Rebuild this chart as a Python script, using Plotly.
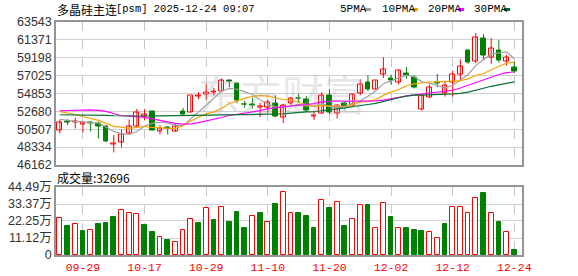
import plotly.graph_objects as go

dates = ["09-24","09-25","09-26","09-29","09-30","10-09","10-10","10-13","10-14","10-15",
         "10-16","10-17","10-20","10-21","10-22","10-23","10-24","10-27","10-28","10-29",
         "10-30","10-31","11-03","11-04","11-05","11-06","11-07","11-10","11-11","11-12",
         "11-13","11-14","11-17","11-18","11-19","11-20","11-21","11-24","11-25","11-26",
         "11-27","11-28","12-01","12-02","12-03","12-04","12-05","12-08","12-09","12-10",
         "12-11","12-12","12-15","12-16","12-17","12-18","12-19","12-22","12-23","12-24"]

opens = [50388,51430,51250,51070,51350,51200,50830,48700,48860,50030,
         50790,52040,52680,50270,50690,50270,52680,52560,54450,54690,
         54930,55090,56420,56060,53520,53440,53160,53160,53650,51960,
         53650,54250,54050,52040,52400,54530,52400,53650,53360,54810,
         56180,55340,57150,56620,56180,57270,56740,52880,54370,56140,
         54850,56180,57110,60080,58710,61490,59200,60040,58670,58030]
highs = [51675,51720,51876,51470,51470,51400,50990,49780,50470,51670,
         52960,52920,52720,50990,50870,51150,53080,54530,55010,55940,
         55500,56660,56500,56060,53930,54330,53690,54050,54610,53570,
         54410,54770,54530,52760,54970,55370,53480,53810,54770,56540,
         57030,56420,59200,57110,57710,58030,57030,54690,55900,57190,
         56300,57590,58960,60160,62140,62010,61530,61290,59520,58670]
lows = [49985,50990,50590,50110,50230,49380,48940,47690,48300,49860,
        50790,51600,50350,49870,49870,50190,52280,52560,54130,54090,
        54570,55090,55580,53650,53080,53000,51960,52480,51960,51230,
        53250,53690,52560,51630,52400,52360,51800,52880,53360,54610,
        55090,55340,56700,55900,55900,56620,55420,52760,54290,55580,
        54450,54450,56380,58430,58510,58960,58430,58590,58190,57310]
closes = [51353,51350,51470,51270,51230,50830,49020,48780,49900,50870,
          52560,52320,50350,50590,50560,50830,52320,54530,54530,54970,
          55010,56420,56300,53970,53430,53360,53240,53770,52040,53400,
          54210,54170,52760,52160,54610,52480,53360,53240,54690,55940,
          55260,56420,57750,56380,57590,57030,55580,54610,55580,56020,
          55780,57110,58070,58590,61610,59440,60240,58870,59160,57430]

ma5 = [51700,51550,51450,51380,51335,51230,50764,50226,49952,49880,
       50226,50886,51200,51338,51276,50930,50930,51766,52554,53436,
       54272,55092,55446,55334,55026,54696,54060,53554,53168,53162,
       53332,53518,53316,53340,53582,53236,53074,53170,53676,53942,
       54498,55110,56012,56350,56680,57034,56866,56238,56078,55764,
       55514,55820,56512,57114,58232,58964,59590,59750,59864,59028]
ma10 = [52630,52480,52280,52040,51800,51560,51200,50850,50740,50607,
        50728,50825,50713,50645,50578,50578,50908,51483,51946,52356,
        52601,53011,53606,53944,54231,54484,54576,54500,54251,54094,
        54014,53789,53435,53254,53372,53284,53296,53243,53508,53762,
        53867,54092,54591,55013,55311,55766,55988,56125,56214,56222,
        56274,56343,56375,56596,56998,57239,57705,58131,58489,58630]
ma20 = [52730,52770,52850,52850,52850,52770,52650,52400,52130,52080,
        52050,51930,51750,51570,51400,51200,51120,51150,51300,51482,
        51665,51918,52160,52295,52405,52531,52742,52992,53099,53225,
        53308,53400,53521,53599,53802,53884,53936,53872,53880,53928,
        53941,53941,54013,54134,54342,54525,54642,54684,54861,54992,
        55071,55218,55483,55805,56155,56503,56847,57128,57352,57426]
ma30 = [52250,52250,52250,52250,52250,52230,52170,52130,52110,52080,
        52080,52080,52100,52120,52130,52180,52180,52180,52190,52190,
        52190,52200,52280,52300,52300,52300,52310,52320,52330,52352,
        52448,52542,52585,52614,52727,52782,52927,53075,53235,53404,
        53494,53631,53877,54070,54305,54511,54620,54623,54691,54726,
        54752,54775,54834,54988,55260,55463,55696,55866,56104,56238]

volumes = [244000,188000,201000,155000,161000,201000,207000,246000,297000,277000,
           266000,194000,148000,120000,96000,83000,166000,238000,207000,310000,
           227000,316000,214000,279000,174000,257000,273000,218000,332000,414000,
           277000,273000,253000,174000,362000,305000,349000,188000,238000,329000,
           325000,179000,342000,246000,179000,174000,161000,155000,153000,113000,
           201000,316000,316000,277000,375000,403000,277000,214000,153000,32696]
vol_up = [1,0,1,0,1,0,0,0,1,1, 1,0,0,1,0,1,1,1,0,1,
          0,1,0,0,0,1,0,1,0,1, 1,0,0,0,1,0,1,0,1,1,
          0,1,1,0,1,0,0,0,1,1, 0,1,1,1,1,0,1,0,1,0]

tick_dates = ["09-29","10-17","10-29","11-10","11-20","12-02","12-12","12-24"]
price_ticks = [46162,48334,50507,52680,54853,57025,59198,61371,63543]
vol_ticks = [0,111200,222500,333700,444900]
vol_tick_text = ["0","11.12万","22.25万","33.37万","44.49万"]
ma_names = ["5PMA","10PMA","20PMA","30PMA"]

RED = "#ff0000"
GREEN = "#008000"
ma_colors = ["#a0a0a0", "#f5a300", "#ff00ff", "#006f2e"]

W, H = 578, 276
def px(x): return x / W
def py(y): return 1 - y / H

fig = go.Figure()

# wicks
for is_up, col in [(True, RED), (False, GREEN)]:
    xs, ys = [], []
    for d, o, h, l, c in zip(dates, opens, highs, lows, closes):
        if (c >= o) == is_up:
            xs += [d, d, None]
            ys += [l, h, None]
    fig.add_trace(go.Scatter(x=xs, y=ys, mode="lines", line=dict(color=col, width=1),
                             hoverinfo="skip", showlegend=False, xaxis="x", yaxis="y"))

# bodies
for is_up, fill, col in [(True, "#ffffff", RED), (False, GREEN, GREEN)]:
    xs, bases, hs = [], [], []
    for d, o, c in zip(dates, opens, closes):
        if (c >= o) == is_up:
            xs.append(d)
            bases.append(min(o, c))
            hs.append(abs(c - o))
    fig.add_trace(go.Bar(x=xs, y=hs, base=bases, width=0.62,
                         marker=dict(color=fill, line=dict(color=col, width=1)),
                         showlegend=False, xaxis="x", yaxis="y"))

# moving averages
for name, vals, col in zip(ma_names, [ma5, ma10, ma20, ma30], ma_colors):
    fig.add_trace(go.Scatter(x=dates, y=vals, mode="lines", name=name,
                             line=dict(color=col, width=1.2), showlegend=False,
                             xaxis="x", yaxis="y"))

# volume
for flag, fill, col in [(1, "#ffffff", RED), (0, GREEN, GREEN)]:
    xs = [d for d, u in zip(dates, vol_up) if u == flag]
    vs = [v for v, u in zip(volumes, vol_up) if u == flag]
    fig.add_trace(go.Bar(x=xs, y=vs, width=0.62,
                         marker=dict(color=fill, line=dict(color=col, width=1)),
                         showlegend=False, xaxis="x2", yaxis="y2"))

axis_common = dict(type="category", categoryorder="array", categoryarray=dates,
                   range=[-0.5, 60.0], tickmode="array", tickvals=tick_dates,
                   showgrid=True, gridcolor="#c8c8c8", griddash="dash", gridwidth=1,
                   showline=True, mirror=True, linecolor="#959595", linewidth=1.5,
                   ticks="", zeroline=False, automargin=False,
                   domain=[px(56), px(522)])

fig.update_layout(
    width=W, height=H,
    margin=dict(l=0, r=0, t=0, b=0),
    paper_bgcolor="white", plot_bgcolor="white",
    barmode="overlay", bargap=0,
    showlegend=False,
    xaxis=dict(**axis_common, anchor="y", showticklabels=False),
    xaxis2=dict(**axis_common, anchor="y2", showticklabels=True,
                tickfont=dict(family="Liberation Mono", size=11.5, color=RED)),
    yaxis=dict(domain=[py(165), py(21.5)], range=[price_ticks[0], price_ticks[-1]],
               tickmode="array", tickvals=price_ticks, ticktext=[str(v) for v in price_ticks],
               showgrid=True, gridcolor="#d0d0d0", gridwidth=1, zeroline=False,
               showline=True, mirror=True, linecolor="#959595", linewidth=1.5,
               ticks="", automargin=False,
               tickfont=dict(family="Liberation Sans", size=12.5, color="#333")),
    yaxis2=dict(domain=[py(255), py(187)], range=[0, vol_ticks[-1]],
                tickmode="array", tickvals=vol_ticks, ticktext=vol_tick_text,
                showgrid=True, gridcolor="#d0d0d0", gridwidth=1, zeroline=False,
                showline=True, mirror=True, linecolor="#959595", linewidth=1.5,
                ticks="", automargin=False,
                tickfont=dict(family="Liberation Sans, Noto Sans CJK SC", size=12.5, color="#333")),
)

ann = []
# watermark
ann.append(dict(text="东方财富", x=px(282), y=py(93), xref="paper", yref="paper",
                showarrow=False, font=dict(family="Noto Sans CJK SC", size=42,
                                           color="rgba(170,170,185,0.3)")))
# title
ann.append(dict(text="多晶硅主连", x=px(55), y=py(9), xref="paper", yref="paper",
                xanchor="left", yanchor="middle", showarrow=False,
                font=dict(family="Noto Sans CJK SC", size=12, color="#000")))
ann.append(dict(text="[psm] 2025-12-24 09:07", x=px(114), y=py(9), xref="paper", yref="paper",
                xanchor="left", yanchor="middle", showarrow=False,
                font=dict(family="Liberation Mono", size=10.5, color="#000")))
# volume label
ann.append(dict(text="成交量:32696", x=px(55), y=py(177), xref="paper", yref="paper",
                xanchor="left", yanchor="middle", showarrow=False,
                font=dict(family="Noto Sans CJK SC", size=12, color="#000")))

shapes = []
legend_text_x = [338, 380, 426, 472]
legend_sw_x = [365, 412, 458, 504]
for name, col, tx, sx in zip(ma_names, ma_colors, legend_text_x, legend_sw_x):
    ann.append(dict(text=name, x=px(tx), y=py(9), xref="paper", yref="paper",
                    xanchor="left", yanchor="middle", showarrow=False,
                    font=dict(family="Liberation Mono", size=11, color="#000")))
    shapes.append(dict(type="line", xref="paper", yref="paper",
                       x0=px(sx), x1=px(sx + 6), y0=py(9.5), y1=py(9.5),
                       line=dict(color=col, width=3)))

fig.update_layout(annotations=ann, shapes=shapes)

fig.write_html("out.html")
